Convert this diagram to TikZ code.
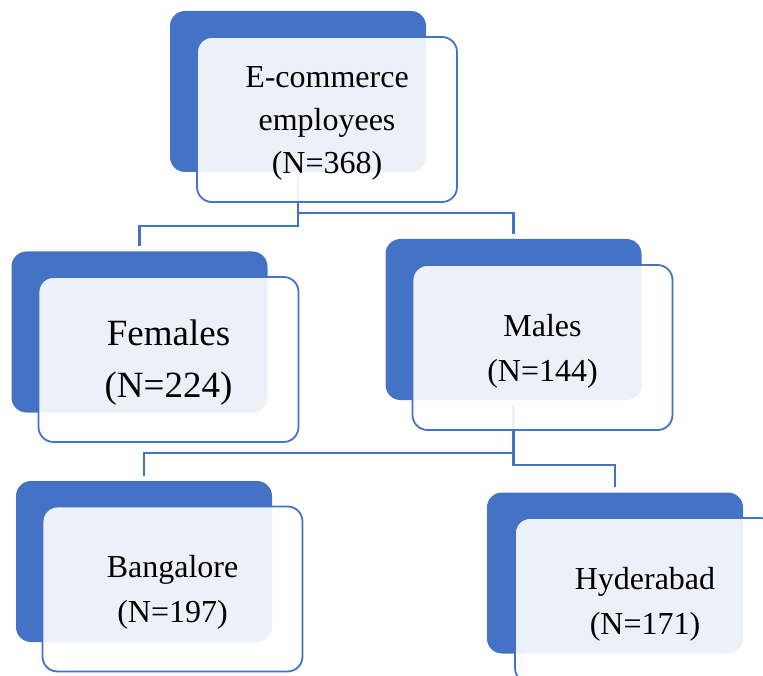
\documentclass[tikz,border=0pt]{standalone}
\usepackage{fontspec}
\setmainfont{Liberation Serif}
\definecolor{dkblue}{HTML}{4472C4}
\pgfdeclarelayer{background}
\pgfsetlayers{background,main}
\begin{document}
\begin{tikzpicture}[x=1pt,y=-1pt,
  darkbox/.style={rectangle, rounded corners=15pt, fill=dkblue, minimum width=256pt, minimum height=161pt, inner sep=0pt},
  lightbox/.style={rectangle, rounded corners=15pt, draw=dkblue, line width=1.8pt, fill=white, fill opacity=0.9, text opacity=1, draw opacity=1, minimum width=260pt, minimum height=165pt, inner sep=0pt},
  boxtext/.style={align=center, text opacity=1, fill opacity=1, yshift=-3.5pt, font=\fontsize{32}{45}\selectfont},
  conn/.style={draw=dkblue, line width=2.2pt, shorten <=5pt, shorten >=5pt}]
\useasboundingbox (0,0) rectangle (763,676);
\clip (0,0) rectangle (763,676);
% dark boxes
\node[darkbox] (topD) at (298,91.5) {};
\node[darkbox] (femD) at (139.5,332) {};
\node[darkbox] (maleD) at (513.5,319.5) {};
\node[darkbox] (blrD) at (144,561.5) {};
\node[darkbox] (hydD) at (615,573) {};
% light boxes
\node[lightbox, label={[boxtext, name=topT, font=\fontsize{32}{43}\selectfont]center:{E-commerce\\employees\\(N=368)}}] (topL) at (327,119.5) {};
\node[lightbox, label={[boxtext, name=femT, font=\fontsize{37}{52}\selectfont]center:{Females\\(N=224)}}] (femL) at (168.5,359.5) {};
\node[lightbox, label={[boxtext, name=maleT]center:{Males\\(N=144)}}] (maleL) at (542.5,347.5) {};
\node[lightbox, label={[boxtext, name=blrT]center:{Bangalore\\(N=197)}}] (blrL) at (172.5,589) {};
\node[lightbox, label={[boxtext, name=hydT]center:{Hyderabad\\(N=171)}}] (hydL) at (645,600.5) {};
% elbows
\coordinate (e1) at (0,226);
\coordinate (e2) at (0,213);
\coordinate (e3) at (0,453);
\coordinate (e4) at (0,465);
\begin{pgfonlayer}{background}
\draw[conn] (topD.south) -- (topD.south |- e1) -| (femD.north);
\draw[conn] (topD.south) -- (topD.south |- e2) -| (maleD.north);
\draw[conn] (maleD.south) -- (maleD.south |- e3) -| (blrD.north);
\draw[conn] (maleD.south) -- (maleD.south |- e4) -| (hydD.north);
\end{pgfonlayer}
\end{tikzpicture}
\end{document}
